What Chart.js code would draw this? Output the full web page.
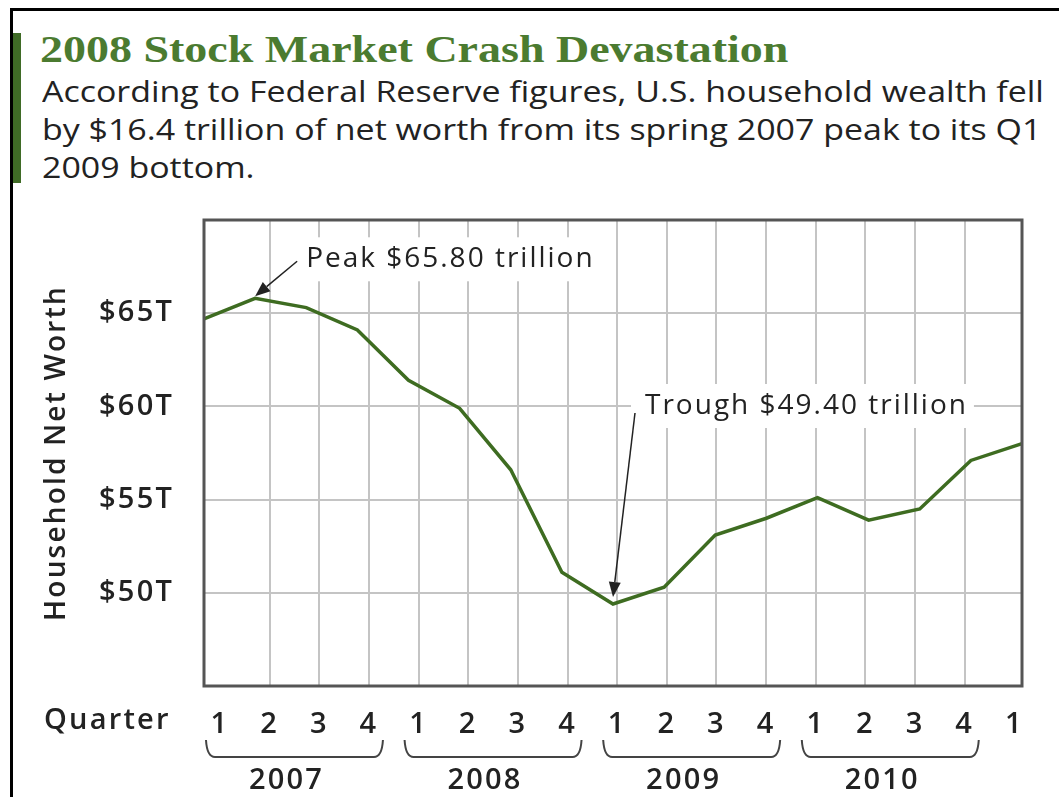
<!DOCTYPE html>
<html lang="en">
<head>
  <meta charset="UTF-8" />
  <title>2008 Stock Market Crash Devastation</title>
  <script src="https://cdn.jsdelivr.net/npm/chart.js"></script>
  <style>
    body {
      margin: 0;
      background: #fff;
    }
    .page {
      position: relative;
      width: 1059px;
      height: 797px;
      overflow: hidden;
      background: #fff;
    }
    .frame {
      position: absolute;
      left: 10px;
      top: 8px;
      right: -10px;
      bottom: -10px;
      border-left: 3px solid #000;
      border-top: 3px solid #000;
    }
    .bar {
      position: absolute;
      left: 13px;
      top: 33px;
      width: 8px;
      height: 150px;
      background: #3f6b26;
    }
    h1 {
      position: absolute;
      left: 40px;
      top: 27px;
      margin: 0;
      font: bold 38px "Liberation Serif", serif;
      color: #4b7b30;
      white-space: nowrap;
      transform: scaleX(1.21);
      transform-origin: left top;
    }
    .sub {
      position: absolute;
      left: 42px;
      top: 72px;
      margin: 0;
      font: 29px "Open Sans", sans-serif;
      line-height: 38px;
      color: #222;
      white-space: nowrap;
      transform: scaleX(1.17);
      transform-origin: left top;
    }
    .chart-box {
      position: absolute;
      left: 0;
      top: 0;
      width: 1059px;
      height: 797px;
    }
  </style>
</head>
<body>
  <div class="page">
    <div class="frame"></div>
    <div class="bar"></div>
    <h1>2008 Stock Market Crash Devastation</h1>
    <p class="sub">According to Federal Reserve figures, U.S. household wealth fell<br>by $16.4 trillion of net worth from its spring 2007 peak to its Q1<br>2009 bottom.</p>
    <div class="chart-box"><canvas id="wealthChart"></canvas></div>
  </div>

  <script>
    // quarterly household net worth, trillions of dollars (Q1 2007 .. Q1 2011)
    const quarters = ['1', '2', '3', '4', '1', '2', '3', '4', '1', '2', '3', '4', '1', '2', '3', '4', '1'];
    const years = ['2007', '2008', '2009', '2010'];
    const netWorth = [64.7, 65.8, 65.3, 64.1, 61.4, 59.9, 56.6, 51.1, 49.4, 50.3, 53.1, 54.0, 55.1, 53.9, 54.5, 57.1, 58.0];
    const yTicks = [50, 55, 60, 65];
    const peakText = 'Peak $65.80 trillion';
    const troughText = 'Trough $49.40 trillion';

    const FONT = '"Open Sans", sans-serif';
    const GREEN = '#3e6c21';
    const GRID = '#c4c4c4';
    const SPACING = '2.2px';

    const peakIdx = netWorth.indexOf(Math.max(...netWorth));
    const troughIdx = netWorth.indexOf(Math.min(...netWorth));

    function arrow(ctx, x1, y1, x2, y2) {
      const a = Math.atan2(y2 - y1, x2 - x1);
      const len = 15, half = 6;
      const bx = x2 - Math.cos(a) * len, by = y2 - Math.sin(a) * len;
      ctx.beginPath();
      ctx.moveTo(x1, y1);
      ctx.lineTo(bx, by);
      ctx.strokeStyle = '#222';
      ctx.lineWidth = 1.5;
      ctx.stroke();
      ctx.beginPath();
      ctx.moveTo(x2, y2);
      ctx.lineTo(bx + Math.sin(a) * half, by - Math.cos(a) * half);
      ctx.lineTo(bx - Math.sin(a) * half, by + Math.cos(a) * half);
      ctx.closePath();
      ctx.fillStyle = '#222';
      ctx.fill();
    }

    function notes(chart) {
      const x = chart.scales.x, y = chart.scales.y;
      const p = { x: x.getPixelForValue(peakIdx), y: y.getPixelForValue(netWorth[peakIdx]) - 2 };
      const t = { x: x.getPixelForValue(troughIdx), y: y.getPixelForValue(netWorth[troughIdx]) - 7 };
      return [
        { tip: p, from: { x: p.x + 42, y: p.y - 35 }, tx: p.x + 51, ty: p.y - 37, text: peakText, padL: 8 },
        { tip: t, from: { x: t.x + 22, y: t.y - 184 }, tx: t.x + 32, ty: t.y - 191, text: troughText, padL: 14 }
      ];
    }

    const decor = {
      id: 'decor',
      beforeDraw(chart) {
        chart.ctx.letterSpacing = SPACING;
      },
      beforeDatasetsDraw(chart) {
        const ctx = chart.ctx;
        ctx.save();
        ctx.letterSpacing = '2px';
        ctx.font = '28px ' + FONT;
        notes(chart).forEach(n => {
          const w = ctx.measureText(n.text).width;
          ctx.fillStyle = '#fff';
          ctx.fillRect(n.tx - n.padL, n.ty - 22, w + n.padL + 6, 44);
        });
        ctx.restore();
      },
      afterDatasetsDraw(chart) {
        const ctx = chart.ctx;
        const a = chart.chartArea;
        ctx.save();
        ctx.strokeStyle = '#555';
        ctx.lineWidth = 3;
        ctx.strokeRect(a.left, a.top, a.right - a.left, a.bottom - a.top);
        ctx.letterSpacing = '2px';
        ctx.font = '28px ' + FONT;
        ctx.textBaseline = 'middle';
        notes(chart).forEach(n => {
          arrow(ctx, n.from.x, n.from.y, n.tip.x, n.tip.y);
          ctx.fillStyle = '#222';
          ctx.fillText(n.text, n.tx, n.ty);
        });
        ctx.restore();
      },
      afterDraw(chart) {
        const ctx = chart.ctx;
        const xq = chart.scales.xq;
        ctx.save();
        ctx.fillStyle = '#222';
        ctx.font = '600 29px ' + FONT;
        ctx.textBaseline = 'middle';
        ctx.textAlign = 'left';
        ctx.fillText('Quarter', 44, 721);
        ctx.strokeStyle = '#444';
        ctx.lineWidth = 2;
        ctx.textAlign = 'center';
        years.forEach((yr, k) => {
          const x0 = xq.getPixelForValue(k * 4) - 14;
          const x1 = xq.getPixelForValue(k * 4 + 3) + 14;
          const top = 740, bot = 757, r = 9;
          ctx.beginPath();
          ctx.moveTo(x0, top);
          ctx.quadraticCurveTo(x0 + 1, bot, x0 + r, bot);
          ctx.lineTo(x1 - r, bot);
          ctx.quadraticCurveTo(x1 - 1, bot, x1, top);
          ctx.stroke();
          ctx.fillText(yr, (x0 + x1) / 2 - 8, 781);
        });
        ctx.restore();
      }
    };

    new Chart(document.getElementById('wealthChart'), {
      type: 'line',
      data: {
        datasets: [{
          data: netWorth.map((v, i) => ({ x: i, y: v })),
          borderColor: GREEN,
          borderWidth: 3.5,
          pointRadius: 0,
          tension: 0,
          clip: false
        }]
      },
      options: {
        responsive: true,
        maintainAspectRatio: false,
        animation: false,
        events: [],
        layout: { padding: { left: 40, top: 220, right: 37, bottom: 0 } },
        plugins: { legend: { display: false }, tooltip: { enabled: false } },
        scales: {
          x: {
            type: 'linear',
            min: 0,
            max: quarters.length - 1,
            display: false
          },
          xq: {
            type: 'linear',
            position: 'bottom',
            min: -0.322,
            max: 16.153,
            afterBuildTicks: s => { s.ticks = quarters.map((q, i) => ({ value: i })); },
            afterFit: s => { s.height = 111; },
            border: { display: false },
            grid: {
              drawTicks: false,
              lineWidth: 2,
              color: c => (c.tick && (c.tick.value === 0 || c.tick.value === quarters.length - 1)) ? 'rgba(0,0,0,0)' : GRID
            },
            ticks: {
              autoSkip: false,
              maxRotation: 0,
              padding: 21,
              color: '#222',
              font: { family: FONT, size: 29, weight: '600' },
              callback: (v, i) => quarters[i]
            }
          },
          y: {
            min: 45,
            max: 70,
            afterBuildTicks: s => { s.ticks = [45, 50, 55, 60, 65, 70].map(v => ({ value: v })); },
            afterFit: s => { s.width = 164; },
            border: { display: false },
            grid: {
              drawTicks: false,
              lineWidth: 2,
              color: c => (c.tick && yTicks.includes(c.tick.value)) ? GRID : 'rgba(0,0,0,0)'
            },
            ticks: {
              padding: 30,
              color: '#222',
              font: { family: FONT, size: 29, weight: '600' },
              callback: v => yTicks.includes(v) ? '$' + v + 'T' : ''
            },
            title: {
              display: true,
              text: 'Household Net Worth',
              color: '#222',
              padding: 0,
              font: { family: FONT, size: 28, weight: '600' }
            }
          }
        }
      },
      plugins: [decor]
    });
  </script>
</body>
</html>
